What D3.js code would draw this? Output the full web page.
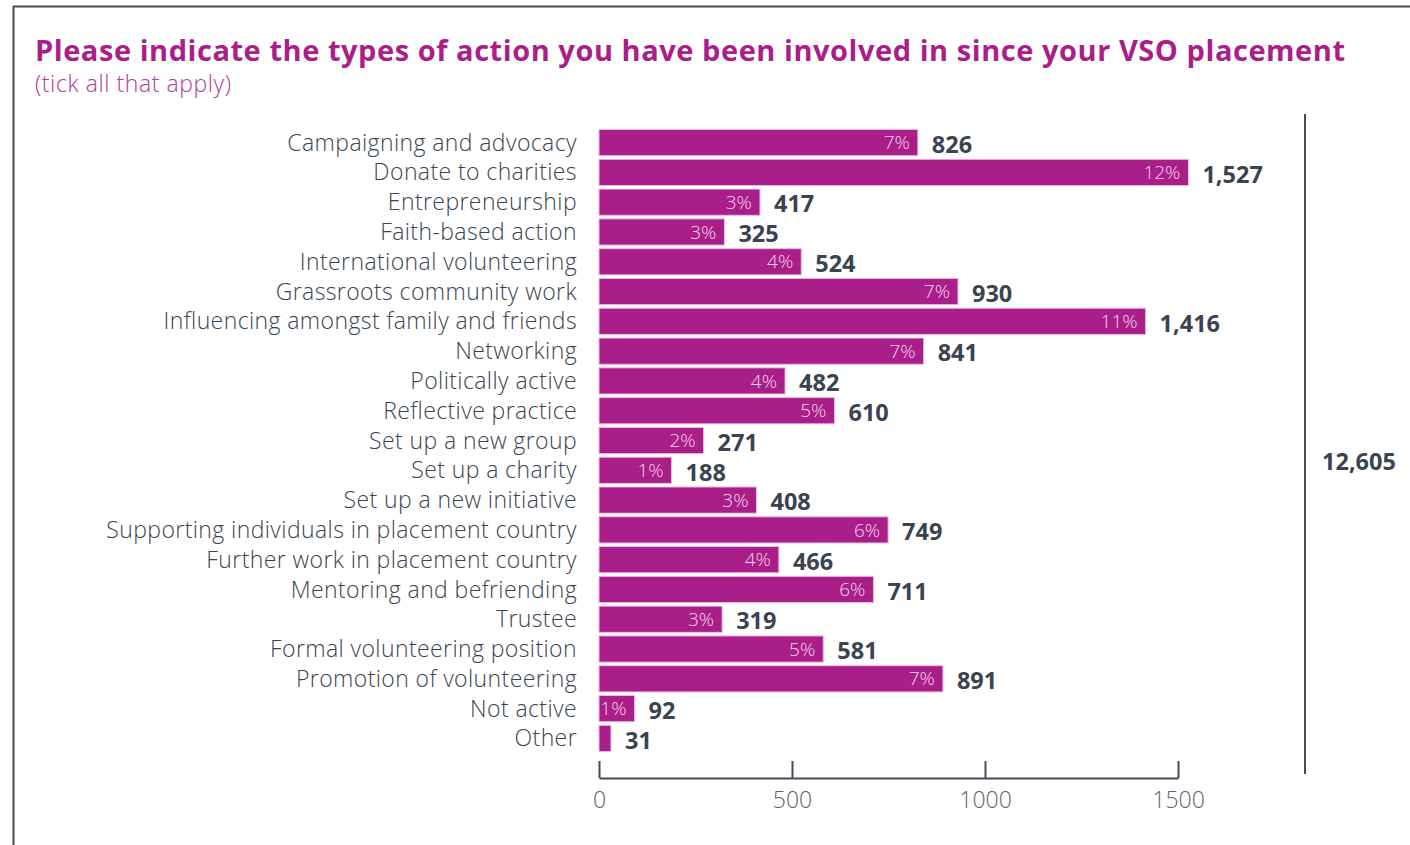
<!DOCTYPE html>
<html>
<head>
<meta charset="utf-8">
<script src="https://cdn.jsdelivr.net/npm/d3@7"></script>
<style>
  html, body { margin: 0; padding: 0; background: #fff; }
  svg { display: block; }
</style>
</head>
<body>
<svg id="chart" width="1410" height="845"></svg>
<script>
// Types of action since VSO placement (respondents could tick several)
const categories = [
  "Campaigning and advocacy", "Donate to charities", "Entrepreneurship",
  "Faith-based action", "International volunteering", "Grassroots community work",
  "Influencing amongst family and friends", "Networking", "Politically active",
  "Reflective practice", "Set up a new group", "Set up a charity",
  "Set up a new initiative", "Supporting individuals in placement country",
  "Further work in placement country", "Mentoring and befriending", "Trustee",
  "Formal volunteering position", "Promotion of volunteering", "Not active", "Other"
];
const counts = [826, 1527, 417, 325, 524, 930, 1416, 841, 482, 610, 271, 188,
                408, 749, 466, 711, 319, 581, 891, 92, 31];
const shares = ["7%", "12%", "3%", "3%", "4%", "7%", "11%", "7%", "4%", "5%", "2%", "1%",
                "3%", "6%", "4%", "6%", "3%", "5%", "7%", "1%", ""];
const totalLabel = "12,605";
const xTicks = [0, 500, 1000, 1500];

const magenta = "#aa1e8a";
const ink = "#3a4450";
const font = "'Open Sans', sans-serif";

const svg = d3.select("#chart");

// frame
svg.append("path")
  .attr("d", "M13.5,845 V6.5 H1410")
  .attr("fill", "none").attr("stroke", "#444d57").attr("stroke-width", 2);

// title
svg.append("text")
  .attr("x", 35).attr("y", 61)
  .attr("font-family", font).attr("font-weight", 700)
  .attr("font-size", 29).attr("fill", magenta)
  .attr("textLength", 1310).attr("lengthAdjust", "spacing")
  .text("Please indicate the types of action you have been involved in since your VSO placement");
svg.append("text")
  .attr("x", 35).attr("y", 92)
  .attr("font-family", font).attr("font-weight", 300)
  .attr("font-size", 23).attr("fill", "#b0399a")
  .attr("textLength", 196).attr("lengthAdjust", "spacing")
  .text("(tick all that apply)");

const x = d3.scaleLinear().domain([0, 1500]).range([599, 1178]);
const y = d3.scaleBand().domain(categories).range([128, 753]).paddingInner(0.12).paddingOuter(0.05);

const rows = categories.map((c, i) => ({ c, v: counts[i], p: shares[i] }));

// category labels
svg.append("g").selectAll("text").data(rows).join("text")
  .attr("x", 577)
  .attr("y", d => y(d.c) + y.bandwidth() / 2)
  .attr("dy", "0.35em")
  .attr("text-anchor", "end")
  .attr("font-family", font).attr("font-weight", 300)
  .attr("font-size", 23).attr("letter-spacing", 0.4).attr("fill", ink)
  .text(d => d.c);

// bars
svg.append("g").selectAll("rect").data(rows).join("rect")
  .attr("x", x(0))
  .attr("y", d => y(d.c))
  .attr("width", d => x(d.v) - x(0))
  .attr("height", y.bandwidth())
  .attr("fill", magenta)
  .attr("stroke", "#e9bde0").attr("stroke-width", 1);

// share labels inside bars
svg.append("g").selectAll("text").data(rows.filter(d => d.p)).join("text")
  .attr("x", d => x(d.v) - 8)
  .attr("y", d => y(d.c) + y.bandwidth() / 2)
  .attr("dy", "0.35em")
  .attr("text-anchor", "end")
  .attr("font-family", font).attr("font-weight", 300)
  .attr("font-size", 19).attr("fill", "#f3d6ec")
  .text(d => d.p);

// count labels
svg.append("g").selectAll("text").data(rows).join("text")
  .attr("x", d => x(d.v) + 14)
  .attr("y", d => y(d.c) + y.bandwidth() / 2 + 2)
  .attr("dy", "0.35em")
  .attr("font-family", font).attr("font-weight", 700)
  .attr("font-size", 23.5).attr("fill", ink)
  .text(d => d3.format(",")(d.v));

// x axis with upward ticks
const axis = svg.append("g").attr("transform", "translate(0,778)")
  .call(d3.axisBottom(x).tickValues(xTicks).tickFormat(d3.format("d"))
    .tickSize(0).tickPadding(14).tickSizeOuter(0));
axis.select(".domain").attr("stroke", "#444d57").attr("stroke-width", 2);
axis.selectAll(".tick line").attr("y2", -17).attr("stroke", "#444d57").attr("stroke-width", 2);
axis.selectAll(".tick text")
  .attr("font-family", font).attr("font-weight", 300)
  .attr("font-size", 23).attr("fill", "#5b646d");

// total bracket
svg.append("line")
  .attr("x1", 1305).attr("x2", 1305).attr("y1", 114).attr("y2", 774)
  .attr("stroke", "#444d57").attr("stroke-width", 2);
svg.append("text")
  .attr("x", 1359).attr("y", 462).attr("dy", "0.35em")
  .attr("text-anchor", "middle")
  .attr("font-family", font).attr("font-weight", 700)
  .attr("font-size", 23.5).attr("fill", ink)
  .text(totalLabel);
</script>
</body>
</html>
